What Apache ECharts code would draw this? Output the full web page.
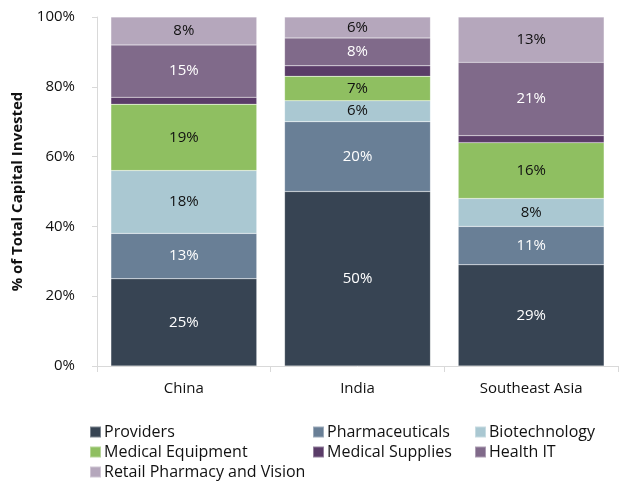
<!DOCTYPE html>
<html>
<head>
<meta charset="utf-8">
<script src="https://cdn.jsdelivr.net/npm/echarts@6/dist/echarts.min.js"></script>
<style>
  html, body { margin: 0; padding: 0; background: #ffffff; }
  #chart { width: 622px; height: 481px; }
</style>
</head>
<body>
<div id="chart"></div>
<script>
// Regions on the category axis
const regions = ['China', 'India', 'Southeast Asia'];

// Share of total capital invested (%), per sector, in region order
const providers      = [25, 50, 29];
const pharmaceuticals = [13, 20, 11];
const biotechnology  = [18, 6, 8];
const medicalEquipment = [19, 7, 16];
const medicalSupplies = [2, 3, 2];
const healthIT       = [15, 8, 21];
const retailPharmacy = [8, 6, 13];

// Value axis tick labels
const yTicks = ['0%', '20%', '40%', '60%', '80%', '100%'];

const FONT = '"Open Sans", "Noto Sans", sans-serif';

const sectors = [
  { name: 'Providers', data: providers, color: '#374453', text: '#ffffff', label: true },
  { name: 'Pharmaceuticals', data: pharmaceuticals, color: '#697f96', text: '#ffffff', label: true },
  { name: 'Biotechnology', data: biotechnology, color: '#aac8d2', text: '#111111', label: true },
  { name: 'Medical Equipment', data: medicalEquipment, color: '#8fbf61', text: '#111111', label: true },
  { name: 'Medical Supplies', data: medicalSupplies, color: '#5a3c68', text: '#ffffff', label: false },
  { name: 'Health IT', data: healthIT, color: '#806a8a', text: '#ffffff', label: true },
  { name: 'Retail Pharmacy and Vision', data: retailPharmacy, color: '#b5a7bc', text: '#111111', label: true }
];

const series = sectors.map(s => ({
  name: s.name,
  type: 'bar',
  stack: 'total',
  barCategoryGap: '16%',
  data: s.data,
  itemStyle: { color: s.color, borderColor: 'rgba(255,255,255,0.35)', borderWidth: 0.5 },
  label: {
    show: s.label,
    position: 'inside',
    formatter: p => p.value + '%',
    color: s.text,
    fontFamily: FONT,
    fontSize: 15
  },
  emphasis: { disabled: true }
}));

const legendBase = {
  orient: 'vertical',
  top: 424,
  height: 70,
  itemWidth: 11,
  itemHeight: 11,
  itemGap: 4,
  icon: 'rect',
  textStyle: { fontFamily: FONT, fontSize: 16, lineHeight: 16, color: '#111111', padding: [0, 0, 0, -2] },
  padding: 0,
  selectedMode: false
};

const chart = echarts.init(document.getElementById('chart'), null, { renderer: 'canvas' });
chart.setOption({
  animation: false,
  backgroundColor: '#ffffff',
  textStyle: { fontFamily: FONT },
  grid: { left: 97, right: 4, top: 17, bottom: 115, containLabel: false },
  legend: [
    Object.assign({}, legendBase, { left: 89, data: ['Providers', 'Medical Equipment', 'Retail Pharmacy and Vision'] }),
    Object.assign({}, legendBase, { left: 312, data: ['Pharmaceuticals', 'Medical Supplies'] }),
    Object.assign({}, legendBase, { left: 474, data: ['Biotechnology', 'Health IT'] })
  ],
  xAxis: {
    type: 'category',
    data: regions,
    axisLine: { show: true, lineStyle: { color: '#d9d9d9', width: 1 } },
    axisTick: { show: true, length: 6, lineStyle: { color: '#d9d9d9' } },
    axisLabel: { color: '#111111', fontSize: 15, fontFamily: FONT, margin: 15 }
  },
  yAxis: {
    type: 'value',
    min: 0,
    max: 100,
    interval: 20,
    name: '% of Total Capital Invested',
    nameLocation: 'middle',
    nameGap: 72,
    nameRotate: 90,
    nameTextStyle: { fontFamily: FONT, fontSize: 15, fontWeight: 'bold', color: '#111111' },
    axisLine: { show: true, lineStyle: { color: '#d9d9d9', width: 1 } },
    axisTick: { show: true, length: 5, lineStyle: { color: '#d9d9d9' } },
    splitLine: { show: false },
    axisLabel: {
      color: '#111111',
      fontSize: 15,
      fontFamily: FONT,
      margin: 22,
      formatter: v => yTicks[Math.round(v / 20)]
    }
  },
  series: series
});
</script>
</body>
</html>
